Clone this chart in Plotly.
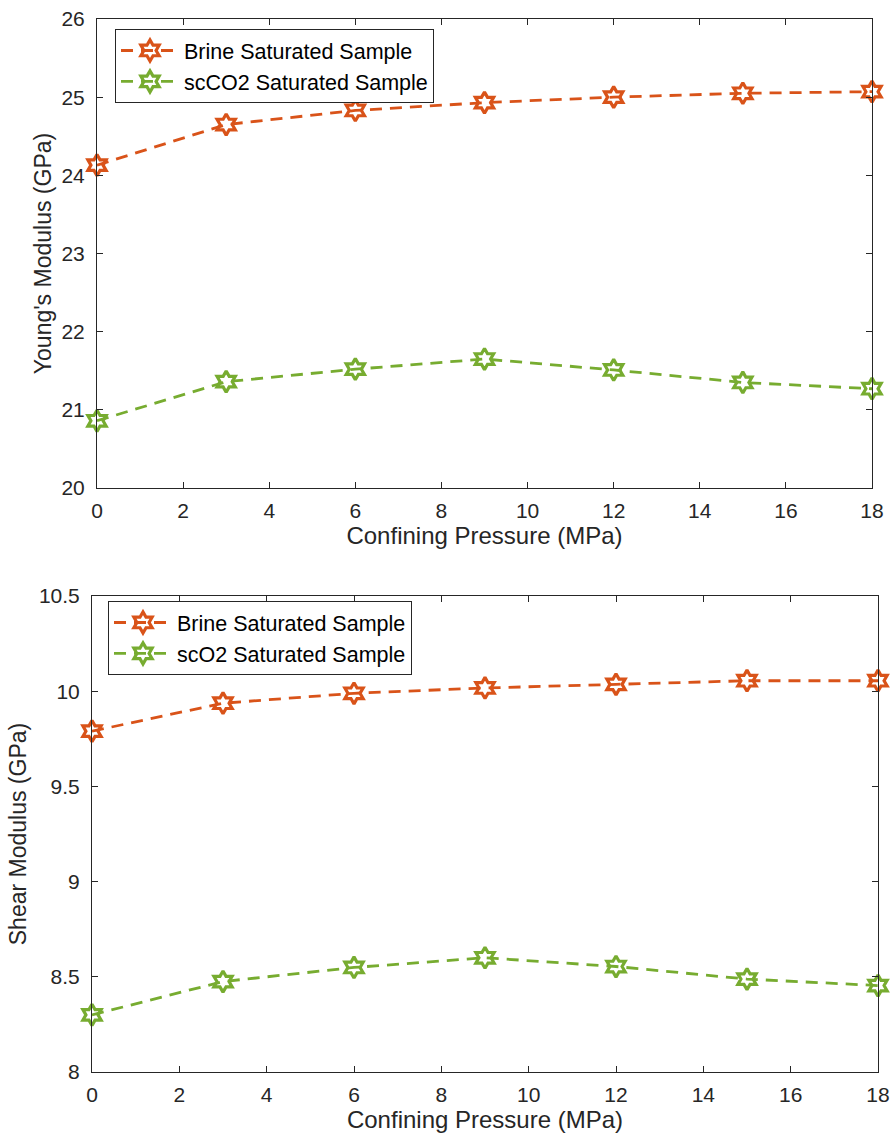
import plotly.graph_objects as go

pressure = [0, 3, 6, 9, 12, 15, 18]
young_brine = [24.13, 24.65, 24.83, 24.93, 25.00, 25.05, 25.07]
young_co2 = [20.86, 21.36, 21.52, 21.65, 21.51, 21.35, 21.27]
shear_brine = [9.79, 9.937, 9.989, 10.017, 10.036, 10.055, 10.055]
shear_co2 = [8.30, 8.475, 8.549, 8.60, 8.554, 8.488, 8.454]

x_ticks = [0, 2, 4, 6, 8, 10, 12, 14, 16, 18]
young_ticks = [20, 21, 22, 23, 24, 25, 26]
shear_ticks = [8, 8.5, 9, 9.5, 10, 10.5]
shear_tick_text = ["8", "8.5", "9", "9.5", "10", "10.5"]

ORANGE = "#D95319"
GREEN = "#77AC30"
W, H = 891, 1135
FONT = "Liberation Sans, Arial, sans-serif"
TXT = "#262626"

fig = go.Figure()

def add(x, y, name, color, xa, ya, legend):
    fig.add_trace(go.Scatter(
        x=x, y=y, name=name, mode="lines+markers", cliponaxis=False,
        line=dict(color=color, width=2.8, dash="12px,8px"),
        marker=dict(symbol="hexagram-open", size=16, color=color,
                    line=dict(color=color, width=3.2)),
        xaxis=xa, yaxis=ya, legend=legend))

add(pressure, young_brine, "Brine Saturated Sample", ORANGE, "x", "y", "legend")
add(pressure, young_co2, "scCO2 Saturated Sample", GREEN, "x", "y", "legend")
add(pressure, shear_brine, "Brine Saturated Sample", ORANGE, "x2", "y2", "legend2")
add(pressure, shear_co2, "scO2 Saturated Sample", GREEN, "x2", "y2", "legend2")

axis_common = dict(
    showline=True, linecolor=TXT, linewidth=1, mirror="ticks",
    ticks="inside", ticklen=6, tickwidth=1, tickcolor=TXT,
    showgrid=False, zeroline=False, automargin=False,
    tickfont=dict(family=FONT, size=21, color=TXT),
)
xa_extra = dict(ticklabelstandoff=4)
ya_extra = dict(ticklabelstandoff=7)
xtitle_font = dict(family=FONT, size=24, color=TXT)
ytitle_font = dict(family=FONT, size=23, color=TXT)
legend_font = dict(family=FONT, size=21.5, color="black")

fig.update_layout(
    width=W, height=H,
    margin=dict(l=0, r=0, t=0, b=0, autoexpand=False),
    paper_bgcolor="white", plot_bgcolor="white",
    showlegend=True,
    xaxis=dict(domain=[97/W, 872/W], range=[0, 18], anchor="y",
               tickvals=x_ticks,
               title=dict(text="Confining Pressure (MPa)", standoff=1, font=xtitle_font),
               **axis_common, **xa_extra),
    yaxis=dict(domain=[1-488/H, 1-19/H], range=[20, 26], anchor="x",
               tickvals=young_ticks,
               title=dict(text="Young's Modulus (GPa)", standoff=3, font=ytitle_font),
               **axis_common, **ya_extra),
    xaxis2=dict(domain=[92/W, 878/W], range=[0, 18], anchor="y2",
                tickvals=x_ticks,
                title=dict(text="Confining Pressure (MPa)", standoff=1, font=xtitle_font),
                **axis_common, **xa_extra),
    yaxis2=dict(domain=[1-1072/H, 1-596/H], range=[8, 10.5], anchor="x2",
                tickvals=shear_ticks, ticktext=shear_tick_text,
                title=dict(text="Shear Modulus (GPa)", standoff=5, font=ytitle_font),
                **axis_common, **ya_extra),
    legend=dict(x=115/W, y=1-29/H, xanchor="left", yanchor="top",
                bgcolor="white", bordercolor=TXT, borderwidth=1,
                font=legend_font, tracegroupgap=0, itemwidth=58),
    legend2=dict(x=108/W, y=1-601/H, xanchor="left", yanchor="top",
                 bgcolor="white", bordercolor=TXT, borderwidth=1,
                 font=legend_font, tracegroupgap=0, itemwidth=58),
)

fig.write_html("out.html", config={"displayModeBar": False},
               post_script="document.body.style.margin='0';document.body.style.overflow='hidden';")
